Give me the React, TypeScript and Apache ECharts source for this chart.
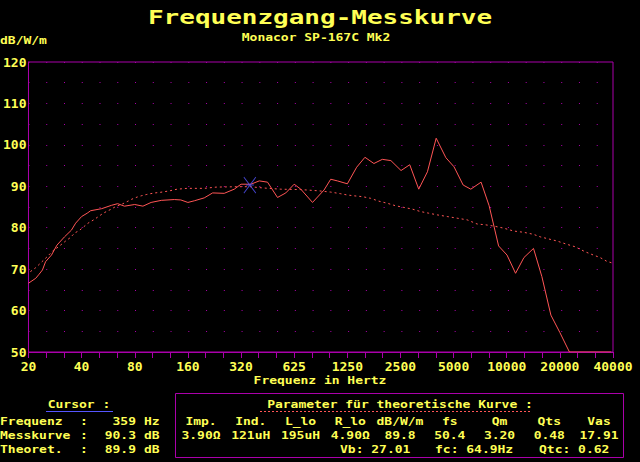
import React, { useEffect, useRef } from "react";
import * as echarts from "echarts";

// X axis tick labels (one per octave step)
const xLabels = ["20", "40", "80", "160", "320", "625", "1250", "2500", "5000", "10000", "20000", "40000"];

// Measured curve (Messkurve)
const measFreq = [20, 22, 23, 24, 25, 27, 29, 32, 35, 37, 40, 43, 45, 52, 59, 64, 70, 80, 89, 99, 113, 134, 146, 160, 174, 198, 221, 257, 293, 320, 364, 406, 452, 515, 574, 640, 698, 813, 945, 1031, 1125, 1281, 1446, 1611, 1811, 2020, 2260, 2580, 2890, 3250, 3640, 4080, 4630, 5150, 5800, 6410, 7330, 8140, 9210, 10280, 11490, 12820, 14520, 16200, 18220, 20480, 23200, 40000];
const measDb = [66.6, 67.8, 68.8, 69.8, 71.8, 73.4, 75.8, 77.8, 79.4, 81.1, 82.7, 83.5, 84.1, 84.6, 85.4, 85.8, 85.2, 85.6, 85.2, 86.1, 86.6, 86.8, 86.7, 86.1, 86.5, 87.2, 88.4, 88.3, 89.3, 90.5, 90.5, 91.3, 91.0, 87.3, 88.4, 90.5, 89.3, 86.1, 89.1, 91.7, 91.3, 90.6, 94.6, 97.0, 95.5, 96.5, 96.2, 93.8, 95.2, 89.3, 93.5, 101.6, 96.9, 94.7, 90.3, 89.3, 91.0, 85.3, 75.6, 73.4, 69.0, 72.8, 75.0, 68.2, 58.9, 54.7, 50.0, 50.0];

// Theoretical curve
const theoFreq = [20.5, 21.9, 23.2, 24.4, 25.8, 27.6, 29.4, 32.5, 34.5, 36.5, 39, 43.5, 46.4, 49.1, 52.2, 55.2, 58.4, 62.3, 67.1, 73.2, 77.1, 82.6, 87, 92.9, 97.8, 104, 110, 118, 126, 139, 158, 198, 231, 300, 359, 426, 538, 698, 882, 1031, 1175, 1281, 1396, 1557, 1735, 1934, 2157, 2403, 2677, 2985, 3326, 3707, 4134, 4709, 5362, 6108, 6958, 7753, 8638, 9836, 11200, 12760, 14520, 15850, 17660, 19700, 22430, 24990, 28470, 31720, 34620, 37740, 40450];
const theoDb = [69.4, 70.3, 71.3, 72.2, 73.2, 74.5, 75.3, 76.8, 77.6, 78.7, 79.4, 81.1, 81.8, 82.5, 83.3, 83.9, 84.4, 85.1, 85.6, 86.4, 86.9, 87.4, 87.7, 88.0, 88.2, 88.4, 88.5, 88.7, 88.9, 89.3, 89.5, 89.5, 89.8, 89.9, 89.9, 89.6, 89.3, 89.2, 88.9, 88.6, 88.2, 87.9, 87.7, 87.5, 87.1, 86.4, 85.9, 85.3, 84.9, 84.5, 83.9, 83.5, 83.1, 82.7, 82.3, 81.9, 80.9, 80.7, 80.4, 79.9, 79.2, 78.9, 78.4, 77.8, 77.3, 76.8, 76.0, 75.4, 74.2, 73.4, 72.8, 71.9, 71.5];

// Cursor
const cursorFreq = 359;
const cursorMeas = 90.3;
const cursorTheo = 89.9;

// Parameter table
const paramHeaders = ["Imp.", "Ind.", "L_lo", "R_lo", "dB/W/m", "fs", "Qm", "Qts", "Vas"];
const paramValues = ["3.90Ω", "121uH", "195uH", "4.90Ω", "89.8", "50.4", "3.20", "0.48", "17.91"];
const paramExtra = ["Vb: 27.01", "fc: 64.9Hz", "Qtc: 0.62"];

const YELLOW = "#ffff55";
const MAGENTA = "#aa00aa";
const RED = "#ff5555";
const BLUE = "#5555ff";
const FONT = "'DejaVu Sans Mono', 'Liberation Mono', monospace";

const toOct = (f: number) => Math.log2(f / 20);

function txt(x: number, y: number, text: string, align = "left", size = 13, fill = YELLOW, scaleY = 1) {
  return {
    type: "text",
    x,
    y,
    scaleY,
    silent: true,
    style: {
      text,
      fill,
      font: `bold ${size}px ${FONT}`,
      align,
      verticalAlign: "middle",
    },
  };
}

export default function App() {
  const ref = useRef<HTMLDivElement>(null);

  useEffect(() => {
    document.body.style.margin = "0";
    document.body.style.background = "#000";
    const chart = echarts.init(ref.current!, null, { renderer: "svg" });

    const graphics: any[] = [];
    graphics.push(txt(320, 17, "Frequenzgang-Messkurve", "center", 26, YELLOW, 0.78));
    graphics.push(txt(316, 37, "Monacor SP-167C Mk2", "center", 13, YELLOW, 0.85));
    graphics.push(txt(0, 40, "dB/W/m", "left", 13, YELLOW, 0.85));
    graphics.push(txt(320, 380, "Frequenz in Hertz", "center", 13, YELLOW, 0.85));

    // cursor panel
    graphics.push(txt(79, 404, "Cursor :", "center", 13, YELLOW, 0.85));
    graphics.push({
      type: "line",
      silent: true,
      shape: { x1: 46, y1: 411.5, x2: 113, y2: 411.5 },
      style: { stroke: BLUE, lineWidth: 1 },
    });
    const rows: [string, string, string, number][] = [
      ["Frequenz", String(cursorFreq), "Hz", 421],
      ["Messkurve", cursorMeas.toFixed(1), "dB", 435],
      ["Theoret.", cursorTheo.toFixed(1), "dB", 449],
    ];
    rows.forEach(([l, v, u, y]) => {
      graphics.push(txt(0, y, l, "left", 13, YELLOW, 0.85));
      graphics.push(txt(80, y, ":", "left", 13, YELLOW, 0.85));
      graphics.push(txt(136, y, v, "right", 13, YELLOW, 0.85));
      graphics.push(txt(144, y, u, "left", 13, YELLOW, 0.85));
    });

    // parameter box
    graphics.push({
      type: "rect",
      silent: true,
      shape: { x: 175.5, y: 393.5, width: 448, height: 64 },
      style: { fill: "none", stroke: MAGENTA, lineWidth: 1 },
    });
    graphics.push(txt(400, 404, "Parameter für theoretische Kurve :", "center", 13, YELLOW, 0.85));
    graphics.push({
      type: "line",
      silent: true,
      shape: { x1: 260, y1: 411.5, x2: 531, y2: 411.5 },
      style: { stroke: RED, lineWidth: 1, lineDash: [2, 2] },
    });
    paramHeaders.forEach((h, i) => graphics.push(txt(201 + 49.75 * i, 421, h, "center", 13, YELLOW, 0.85)));
    paramValues.forEach((v, i) => graphics.push(txt(201 + 49.75 * i, 435, v, "center", 13, YELLOW, 0.85)));
    const extraX = [340, 435, 539];
    paramExtra.forEach((v, i) => graphics.push(txt(extraX[i], 449, v, "left", 13, YELLOW, 0.85)));

    const option: any = {
      animation: false,
      backgroundColor: "#000",
      grid: {
        left: 27,
        right: 27,
        top: 62,
        bottom: 110,
        show: true,
        borderColor: MAGENTA,
        borderWidth: 1,
      },
      xAxis: {
        type: "value",
        min: 0,
        max: 11,
        interval: 1,
        axisLine: { lineStyle: { color: MAGENTA, width: 1 } },
        axisTick: { show: true, inside: false, length: 6, lineStyle: { color: MAGENTA } },
        minorTick: { show: true, splitNumber: 3, length: 6, lineStyle: { color: MAGENTA } },
        splitLine: { show: false },
        axisLabel: {
          color: YELLOW,
          fontFamily: FONT,
          fontWeight: "bold",
          fontSize: 13,
          margin: 8,
          formatter: (v: number) => xLabels[Math.round(v)] ?? "",
        },
      },
      yAxis: {
        type: "value",
        min: 50,
        max: 120,
        interval: 5,
        axisLine: { show: true, lineStyle: { color: MAGENTA, width: 1 } },
        axisTick: { show: false },
        splitLine: {
          show: true,
          lineStyle: { color: MAGENTA, width: 1, type: [1, 586 / 33 - 1] },
        },
        axisLabel: {
          color: YELLOW,
          fontFamily: FONT,
          fontWeight: "bold",
          fontSize: 13,
          margin: 2,
          formatter: (v: number) => (v % 10 === 0 ? String(v) : ""),
        },
      },
      series: [
        {
          type: "line",
          data: theoFreq.map((f, i) => [toOct(f), theoDb[i]]),
          showSymbol: false,
          lineStyle: { color: RED, width: 1, type: [2, 3] },
          z: 3,
        },
        {
          type: "line",
          data: measFreq.map((f, i) => [toOct(f), measDb[i]]),
          showSymbol: false,
          lineStyle: { color: RED, width: 1 },
          z: 4,
        },
        {
          type: "scatter",
          data: [[toOct(cursorFreq), cursorMeas]],
          symbol: "path://M0,0 L12,16 M12,0 L0,16 M2,8 L10,8",
          symbolSize: [12, 16],
          itemStyle: { color: "rgba(0,0,0,0)", borderColor: BLUE, borderWidth: 1 },
          z: 5,
        },
      ],
      graphic: graphics,
    };
    chart.setOption(option);
    return () => chart.dispose();
  }, []);

  return (
    <div
      ref={ref}
      style={{ position: "fixed", left: 0, top: 0, width: 640, height: 462, background: "#000" }}
    />
  );
}
